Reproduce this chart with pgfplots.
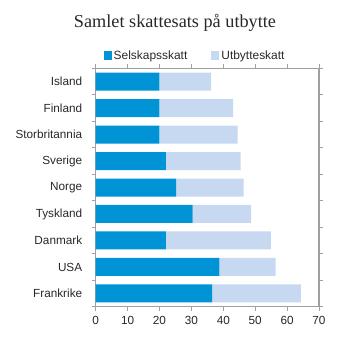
\documentclass[border=0pt]{standalone}
\usepackage{fontspec}
\setmainfont{Liberation Sans}
\newfontfamily\titlefont{Liberation Serif}
\usepackage{pgfplots}
\pgfplotsset{compat=1.18}
\definecolor{dblue}{RGB}{0,147,213}
\definecolor{lblue}{RGB}{198,217,240}
\definecolor{axgray}{RGB}{160,160,160}
\definecolor{txt}{RGB}{40,40,40}
\begin{document}
\begin{tikzpicture}
\path (-95.7bp,-46.3bp) rectangle (257.3bp,306.7bp);
\begin{axis}[
 at={(0,0)}, anchor=south west,
 scale only axis, width=223.3bp, height=238.4bp,
 xbar stacked, bar width=18bp, clip=false,
 xmin=0, xmax=70, xtick={0,10,...,70},
 ymin=-0.5, ymax=8.5, y dir=reverse,
 ytick={-0.5,0.5,...,8.5}, yticklabels={},
 extra y ticks={0,1,2,3,4,5,6,7,8},
 extra y tick labels={Island,Finland,Storbritannia,Sverige,Norge,Tyskland,Danmark,USA,Frankrike},
 extra y tick style={major tick length=0pt, yticklabel style={xshift=-10bp}},
 tick align=outside, major tick length=4bp,
 tick style={axgray, line width=0.8pt},
 axis line style={axgray, line width=0.8pt},
 ticklabel style={font=\fontsize{11.8}{13}\selectfont, text=txt},
 xticklabel style={yshift=-2bp},
 /pgf/number format/assume math mode=true,
 legend columns=2,
 legend style={draw=none, fill=none, at={(0.445,1.052)}, anchor=center,
   font=\fontsize{12}{13}\selectfont, text=txt,
   /tikz/every even column/.append style={column sep=22bp}},
 legend image code/.code={\fill[#1] (0bp,-4bp) rectangle (8bp,4.5bp);},
]
\addplot[fill=dblue, draw=none] coordinates {(20,0) (20,1) (20,2) (22,3) (25.2,4) (30.4,5) (22,6) (38.8,7) (36.5,8)};
\addplot[fill=lblue, draw=none] coordinates {(16.2,0) (23.1,1) (24.5,2) (23.4,3) (21.2,4) (18.3,5) (32.9,6) (17.6,7) (27.8,8)};
\legend{Selskapsskatt,Utbytteskatt}
\end{axis}
\draw[axgray, line width=1.2pt] (0,238.4bp) -- (223.3bp,238.4bp) -- (223.3bp,0);
\node[font=\titlefont\fontsize{18.3}{20}\selectfont, text=txt] at (79.3bp,283.5bp) {Samlet skattesats på utbytte};
\end{tikzpicture}
\end{document}
